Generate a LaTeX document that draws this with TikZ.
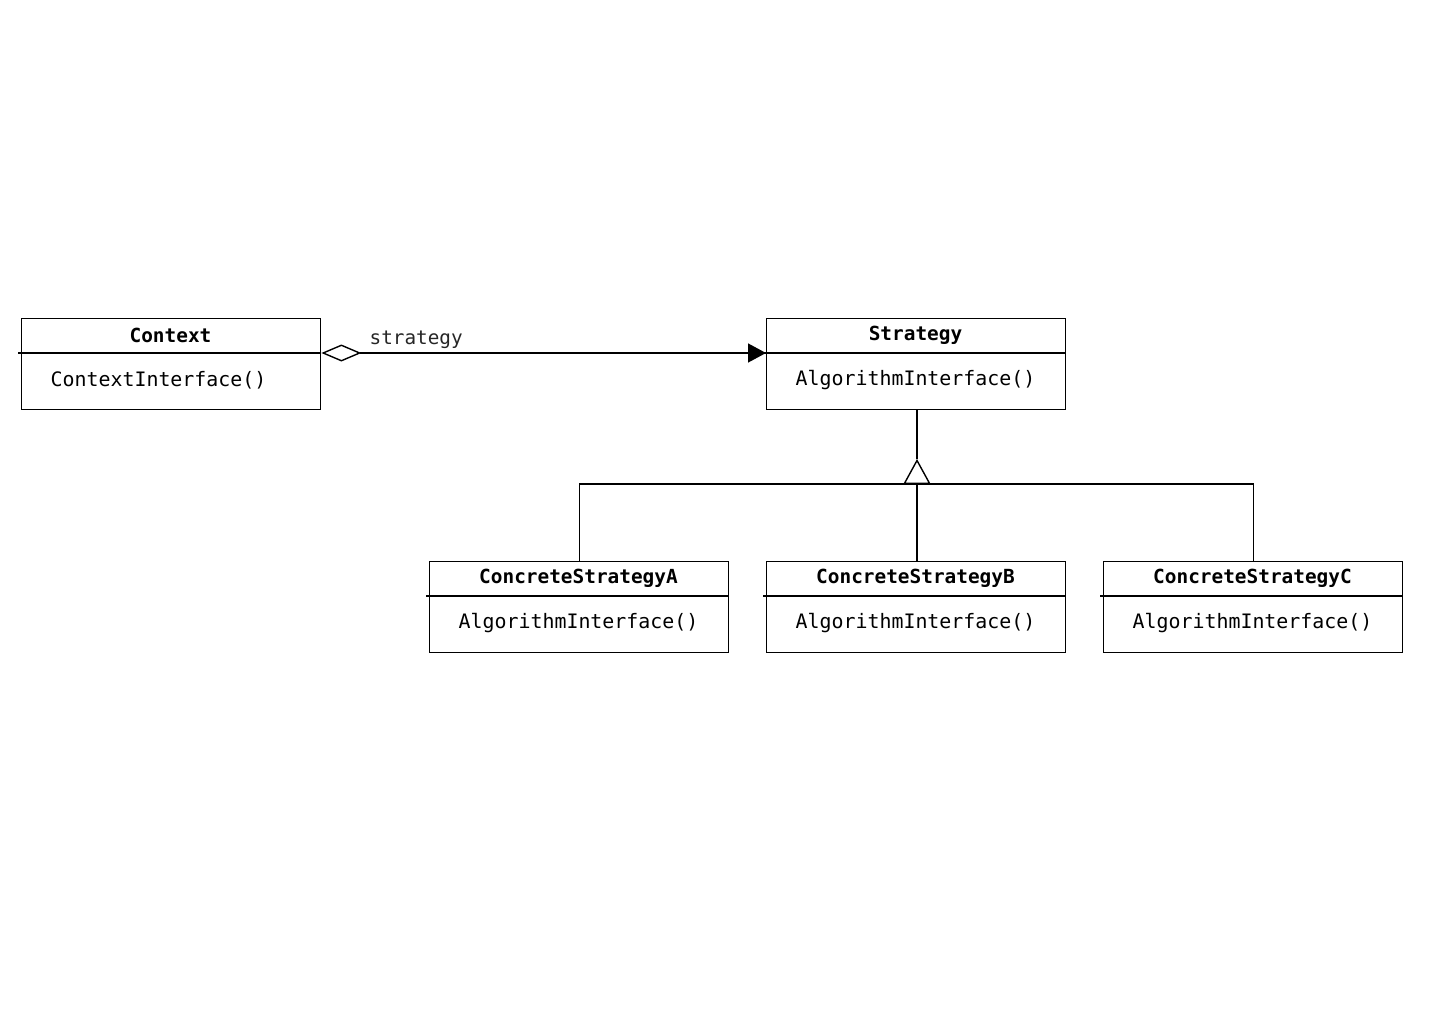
\documentclass[tikz,border=0pt]{standalone}
\usepackage{fontspec}
\setmonofont{DejaVu Sans Mono}
\usetikzlibrary{arrows.meta}
\begin{document}
\begin{tikzpicture}[x=1pt,y=-1pt,
  every path/.style={line width=1.4pt},
  classbox/.style={draw, rectangle, anchor=north west, minimum width=299pt, minimum height=91pt, inner sep=0pt, line width=1.4pt},
  title/.style={font=\ttfamily\bfseries\fontsize{19.4}{22}\selectfont, inner sep=0pt},
  meth/.style={font=\ttfamily\fontsize{19.9}{22}\selectfont, anchor=west, inner sep=0pt},
  lbl/.style={font=\ttfamily\fontsize{19.3}{22}\selectfont, anchor=west, inner sep=0pt, text=black!85}]
\useasboundingbox (0,0) rectangle (1440,1024);
% classes
\newcommand{\umlclass}[5]{%
  \node[classbox] (#1) at (#2,#3) {};
  \draw (#2-3,#3+35) coordinate (#1-l) -- (#2+299,#3+35) coordinate (#1-r);
  \node[title] (#1-t) at (#2+149.5,#3+17.5) {#4};
  \node[meth] (#1-m) at (#2+29,#3+62.5) {#5};
}
\umlclass{ctx}{21}{318}{Context}{ContextInterface()}
\umlclass{str}{766}{318}{Strategy}{AlgorithmInterface()}
\umlclass{csa}{429}{561}{ConcreteStrategyA}{AlgorithmInterface()}
\umlclass{csb}{766}{561}{ConcreteStrategyB}{AlgorithmInterface()}
\umlclass{csc}{1103}{561}{ConcreteStrategyC}{AlgorithmInterface()}
% aggregation
\coordinate (ctxa) at (ctx.east |- ctx-r);
\coordinate (stra) at (str.west |- str-l);
\draw[{Diamond[open,length=40pt,width=17pt,line width=1.4pt]}-{Triangle[length=18pt,width=19pt]}] (ctxa) -- (stra);
\node[lbl] (lab) at (369,340) {strategy};
% inheritance
\coordinate (apex) at (917,459);
\coordinate (junc) at (917,484);
\draw (apex |- str.south) -- (apex);
\draw[-{Triangle[open,length=25pt,width=27pt,line width=1.4pt]}] (apex |- csb.north) -- (apex);
\draw (csa.north) -- (csa.north |- junc) -- (csc.north |- junc) -- (csc.north);
\end{tikzpicture}
\end{document}
